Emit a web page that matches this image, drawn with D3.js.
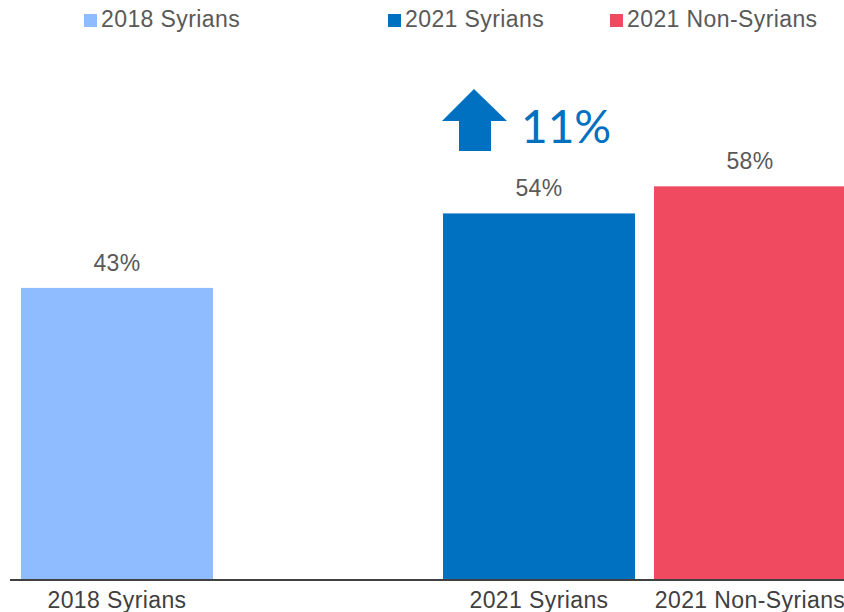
<!DOCTYPE html>
<html>
<head>
<meta charset="utf-8">
<script src="https://cdn.jsdelivr.net/npm/d3@7"></script>
<style>
  html, body { margin: 0; padding: 0; background: #fff; }
  svg { display: block; }
</style>
</head>
<body>
<svg id="chart" width="844" height="612"></svg>
<script>
// Share of respondents by group (a blank slot separates the 2018 and 2021 groups)
const categories = ["2018 Syrians", "", "2021 Syrians", "2021 Non-Syrians"];
const values = [43, null, 54, 58];
const colors = ["#8FBCFF", null, "#0070C0", "#EF4A60"];
const legendLabels = ["2018 Syrians", "2021 Syrians", "2021 Non-Syrians"];
const legendColors = ["#8FBCFF", "#0070C0", "#EF4A60"];
const changeLabel = "11%";

const svg = d3.select("#chart");
const baseY = 579;
const font = "Liberation Sans, Arial, sans-serif";

const x = d3.scaleBand()
  .domain(categories.map((c, i) => i))
  .range([11.5, 855.5])
  .paddingInner(0.09)
  .paddingOuter(0.045);

const y = d3.scaleLinear().domain([0, 100]).range([baseY, baseY - 677]);

const data = categories.map((c, i) => ({ i, c, v: values[i], color: colors[i] }))
  .filter(d => d.v !== null);

// Bars
svg.append("g").selectAll("rect")
  .data(data)
  .join("rect")
  .attr("x", d => x(d.i))
  .attr("y", d => y(d.v))
  .attr("width", x.bandwidth())
  .attr("height", d => y(0) - y(d.v))
  .attr("fill", d => d.color);

// Value labels
svg.append("g").selectAll("text")
  .data(data)
  .join("text")
  .attr("x", d => x(d.i) + x.bandwidth() / 2)
  .attr("y", d => y(d.v) - 17)
  .attr("text-anchor", "middle")
  .attr("font-family", font)
  .attr("font-size", 23)
  .attr("letter-spacing", 0.4)
  .attr("fill", "#595959")
  .text(d => d.v + "%");

// Category axis
const axis = d3.axisBottom(x).tickSize(0).tickPadding(13)
  .tickFormat(i => categories[i]);
const gx = svg.append("g").attr("transform", `translate(0,${baseY})`).call(axis);
gx.select(".domain").remove();
gx.selectAll("text")
  .attr("font-family", font)
  .attr("font-size", 23)
  .attr("letter-spacing", 0.4)
  .attr("fill", "#404040");
svg.append("line")
  .attr("x1", 10).attr("x2", 844)
  .attr("y1", baseY + 1).attr("y2", baseY + 1)
  .attr("stroke", "#404040")
  .attr("stroke-width", 2);

// Legend
const legendX = [84, 388, 610];
const lg = svg.append("g").selectAll("g")
  .data(legendLabels)
  .join("g")
  .attr("transform", (d, i) => `translate(${legendX[i]},0)`);
lg.append("rect")
  .attr("x", 0).attr("y", 14)
  .attr("width", 13).attr("height", 13)
  .attr("fill", (d, i) => legendColors[i]);
lg.append("text")
  .attr("x", 17).attr("y", 27)
  .attr("font-family", font)
  .attr("font-size", 23)
  .attr("letter-spacing", 0.4)
  .attr("fill", "#595959")
  .text(d => d);

// Change indicator: up arrow and percentage above the 2021 Syrians bar
const cx = x(2) + x.bandwidth() / 2 - 65;
svg.append("path")
  .attr("d", `M${cx},89 L${cx + 33},121 L${cx + 17},121 L${cx + 17},151 L${cx - 15},151 L${cx - 15},121 L${cx - 32},121 Z`)
  .attr("fill", "#0070C0");
svg.append("text")
  .attr("x", 521)
  .attr("y", 143)
  .attr("font-family", "Lato, 'Open Sans', sans-serif")
  .attr("font-size", 46)
  .attr("fill", "#0070C0")
  .text(changeLabel);
</script>
</body>
</html>
